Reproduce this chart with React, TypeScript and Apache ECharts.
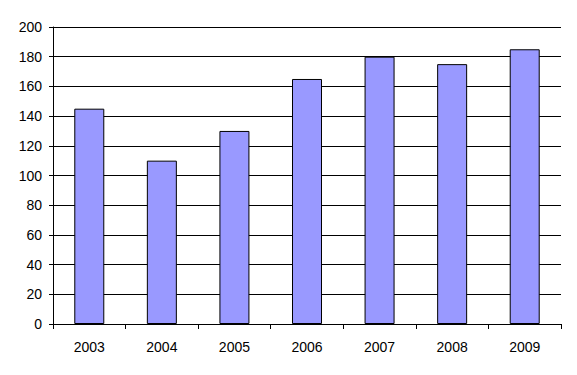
import React, { useEffect, useRef } from "react";
import * as echarts from "echarts";

const categories = ["2003", "2004", "2005", "2006", "2007", "2008", "2009"];
const values = [145, 110, 130, 165, 180, 175, 185];
const yMin = 0;
const yMax = 200;
const yInterval = 20;

export default function App() {
  const ref = useRef<HTMLDivElement>(null);
  useEffect(() => {
    if (!ref.current) return;
    const chart = echarts.init(ref.current, null, { renderer: "svg" });
    chart.setOption({
      animation: false,
      backgroundColor: "#ffffff",
      textStyle: { fontFamily: "Liberation Sans, Arial, sans-serif" },
      grid: { left: 53, right: 16, top: 27, bottom: 51, containLabel: false },
      xAxis: {
        type: "category",
        data: categories,
        boundaryGap: true,
        axisLine: { show: true, lineStyle: { color: "#000", width: 1 } },
        axisTick: { show: true, length: 5, lineStyle: { color: "#000" }, interval: 0 },
        axisLabel: { color: "#000", fontSize: 14, margin: 16, interval: 0 },
        splitLine: { show: false },
      },
      yAxis: {
        type: "value",
        min: yMin,
        max: yMax,
        interval: yInterval,
        axisLine: { show: true, lineStyle: { color: "#000", width: 1 } },
        axisTick: { show: true, length: 4, lineStyle: { color: "#000" } },
        axisLabel: { color: "#000", fontSize: 14, margin: 11 },
        splitLine: { show: true, lineStyle: { color: "#000", width: 1 } },
      },
      series: [
        {
          type: "bar",
          data: values,
          barWidth: 30,
          itemStyle: { color: "#9999ff", borderColor: "#000", borderWidth: 1 },
        },
      ],
    });
    return () => chart.dispose();
  }, []);
  return (
    <div
      ref={ref}
      style={{ position: "fixed", left: 0, top: 0, width: 577, height: 375 }}
    />
  );
}
